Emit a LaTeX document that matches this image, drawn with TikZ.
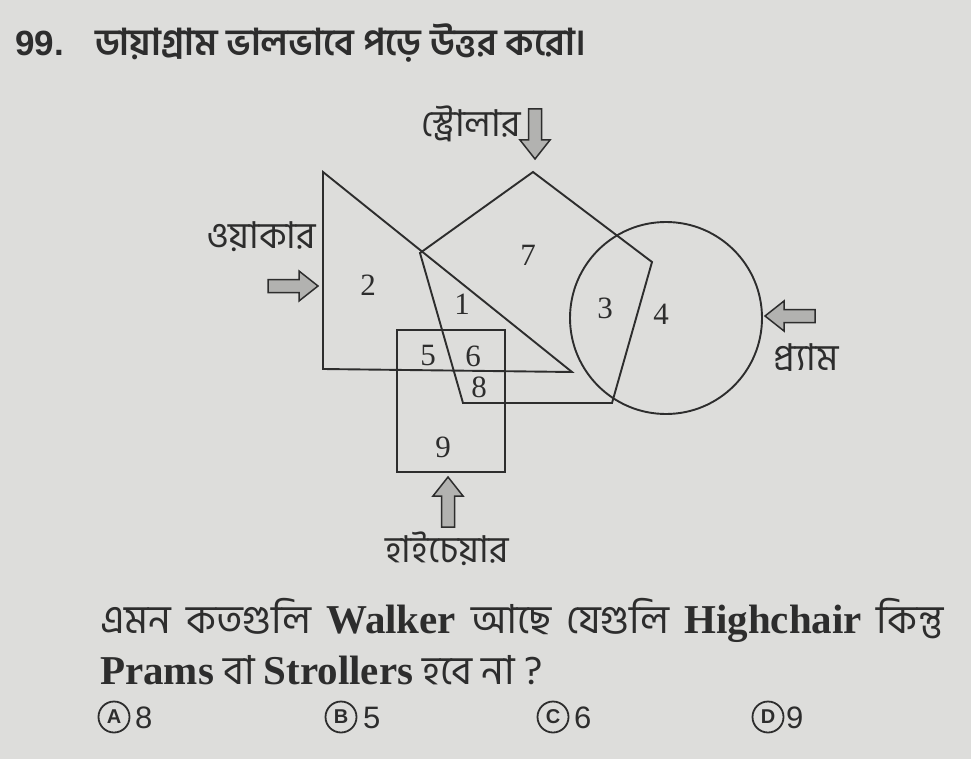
\documentclass[tikz,border=0pt]{standalone}
\usepackage{fontspec}
\setmainfont{Liberation Serif}
\newfontfamily\bn[Script=Bengali]{Hind Siliguri}
\newfontfamily\lsans{Liberation Sans}
\newfontfamily\lserif{Liberation Serif}
\definecolor{paper}{RGB}{221,221,219}
\definecolor{ink}{RGB}{45,45,45}
\definecolor{arrowfill}{RGB}{178,178,176}
\newcommand{\latb}[1]{{\lserif\bfseries\fontsize{41}{42}\selectfont #1}}
\newcommand{\wsp}{\hspace{15pt}}
\tikzset{
  shapeline/.style={draw=ink, line width=1.9pt, line join=miter},
  num/.style={text=ink, font=\lserif\fontsize{31}{32}\selectfont, inner sep=0pt},
  bnlabel/.style={text=ink, font=\bn\fontsize{37}{40}\selectfont, inner sep=0pt},
  opt/.style={text=ink, font=\lsans\fontsize{31}{32}\selectfont, inner sep=0pt},
  optcircle/.style={circle, draw=ink, line width=1.8pt, text=ink, minimum size=31pt, inner sep=0pt, font=\lsans\bfseries\fontsize{20}{22}\selectfont},
  blockarrow/.pic={\draw[draw=ink, line width=1.5pt, fill=arrowfill, line join=miter]
    (-25,-6.5) -- (6,-6.5) -- (6,-15) -- (25,0) -- (6,15) -- (6,6.5) -- (-25,6.5) -- cycle;}
}
\begin{document}
\begin{tikzpicture}[x=1pt, y=-1pt]
\fill[paper] (0,0) rectangle (971,759);
\useasboundingbox (0,0) rectangle (971,759);

% title
\node[anchor=base west, inner sep=0pt, text=ink, font=\lsans\bfseries\fontsize{35}{36}\selectfont] (qno) at (15,56) {99.};
\node[anchor=base west, inner sep=0pt, text=ink, font=\bn\bfseries\fontsize{37}{40}\selectfont] (title) at (95,56) {ডায়াগ্রাম ভালভাবে পড়ে উত্তর করো।};

% walker triangle
\coordinate (t1) at (323,172);
\coordinate (t2) at (323,369);
\coordinate (t3) at (572,372);
\draw[shapeline] (t1) -- (t2) -- (t3) -- cycle;

% stroller pentagon
\coordinate (p1) at (533,172);
\coordinate (p2) at (652,262);
\coordinate (p3) at (612,403);
\coordinate (p4) at (463,403);
\coordinate (p5) at (420,253);
\draw[shapeline] (p1) -- (p2) -- (p3) -- (p4) -- (p5) -- cycle;

% pram circle
\node[circle, shapeline, minimum size=192pt, inner sep=0pt] (pram) at (666,318) {};

% highchair square
\node[rectangle, shapeline, minimum width=108pt, minimum height=142pt, inner sep=0pt] (chair) at (451,401) {};

% region numbers
\node[num] (n2) at (368,285) {2};
\node[num] (n7) at (528,255) {7};
\node[num] (n1) at (462,304) {1};
\node[num] (n3) at (605,308) {3};
\node[num] (n4) at (661,314) {4};
\node[num] (n5) at (428,356) {5};
\node[num] (n6) at (473,356) {6};
\node[num] (n8) at (479,387) {8};
\node[num] (n9) at (443,447) {9};

% arrows and labels
\pic (sarrow) at (535,134) [rotate=-90] {blockarrow};
\node[bnlabel, anchor=east] (slabel) at (521,124) {স্ট্রোলার};

\pic (warrow) at (293,286) {blockarrow};
\node[bnlabel] (wlabel) at (261,237) {ওয়াকার};

\pic (parrow) at (790,316) [rotate=180] {blockarrow};
\node[bnlabel] (plabel) at (806,358) {প্র্যাম};

\pic (harrow) at (448,502) [rotate=90] {blockarrow};
\node[bnlabel] (hlabel) at (447,549) {হাইচেয়ার};

% question
\node[anchor=base west, inner sep=0pt, text=ink, font=\bn\fontsize{40}{42}\selectfont] (q1) at (100,633)
  {এমন\wsp কতগুলি\wsp\latb{Walker}\wsp আছে\wsp যেগুলি\wsp\latb{Highchair}\wsp কিন্তু};
\node[anchor=base west, inner sep=0pt, text=ink, font=\bn\fontsize{40}{42}\selectfont] (q2) at (100,684)
  {\latb{Prams} বা \latb{Strollers} হবে না ?};

% options
\node[optcircle] (oa) at (114,717) {A};
\node[opt, anchor=west] (va) at (135,718) {8};
\node[optcircle] (ob) at (341,717) {B};
\node[opt, anchor=west] (vb) at (363,718) {5};
\node[optcircle] (oc) at (553,717) {C};
\node[opt, anchor=west] (vc) at (574,718) {6};
\node[optcircle] (od) at (768,717) {D};
\node[opt, anchor=west] (vd) at (786,718) {9};
\end{tikzpicture}
\end{document}
